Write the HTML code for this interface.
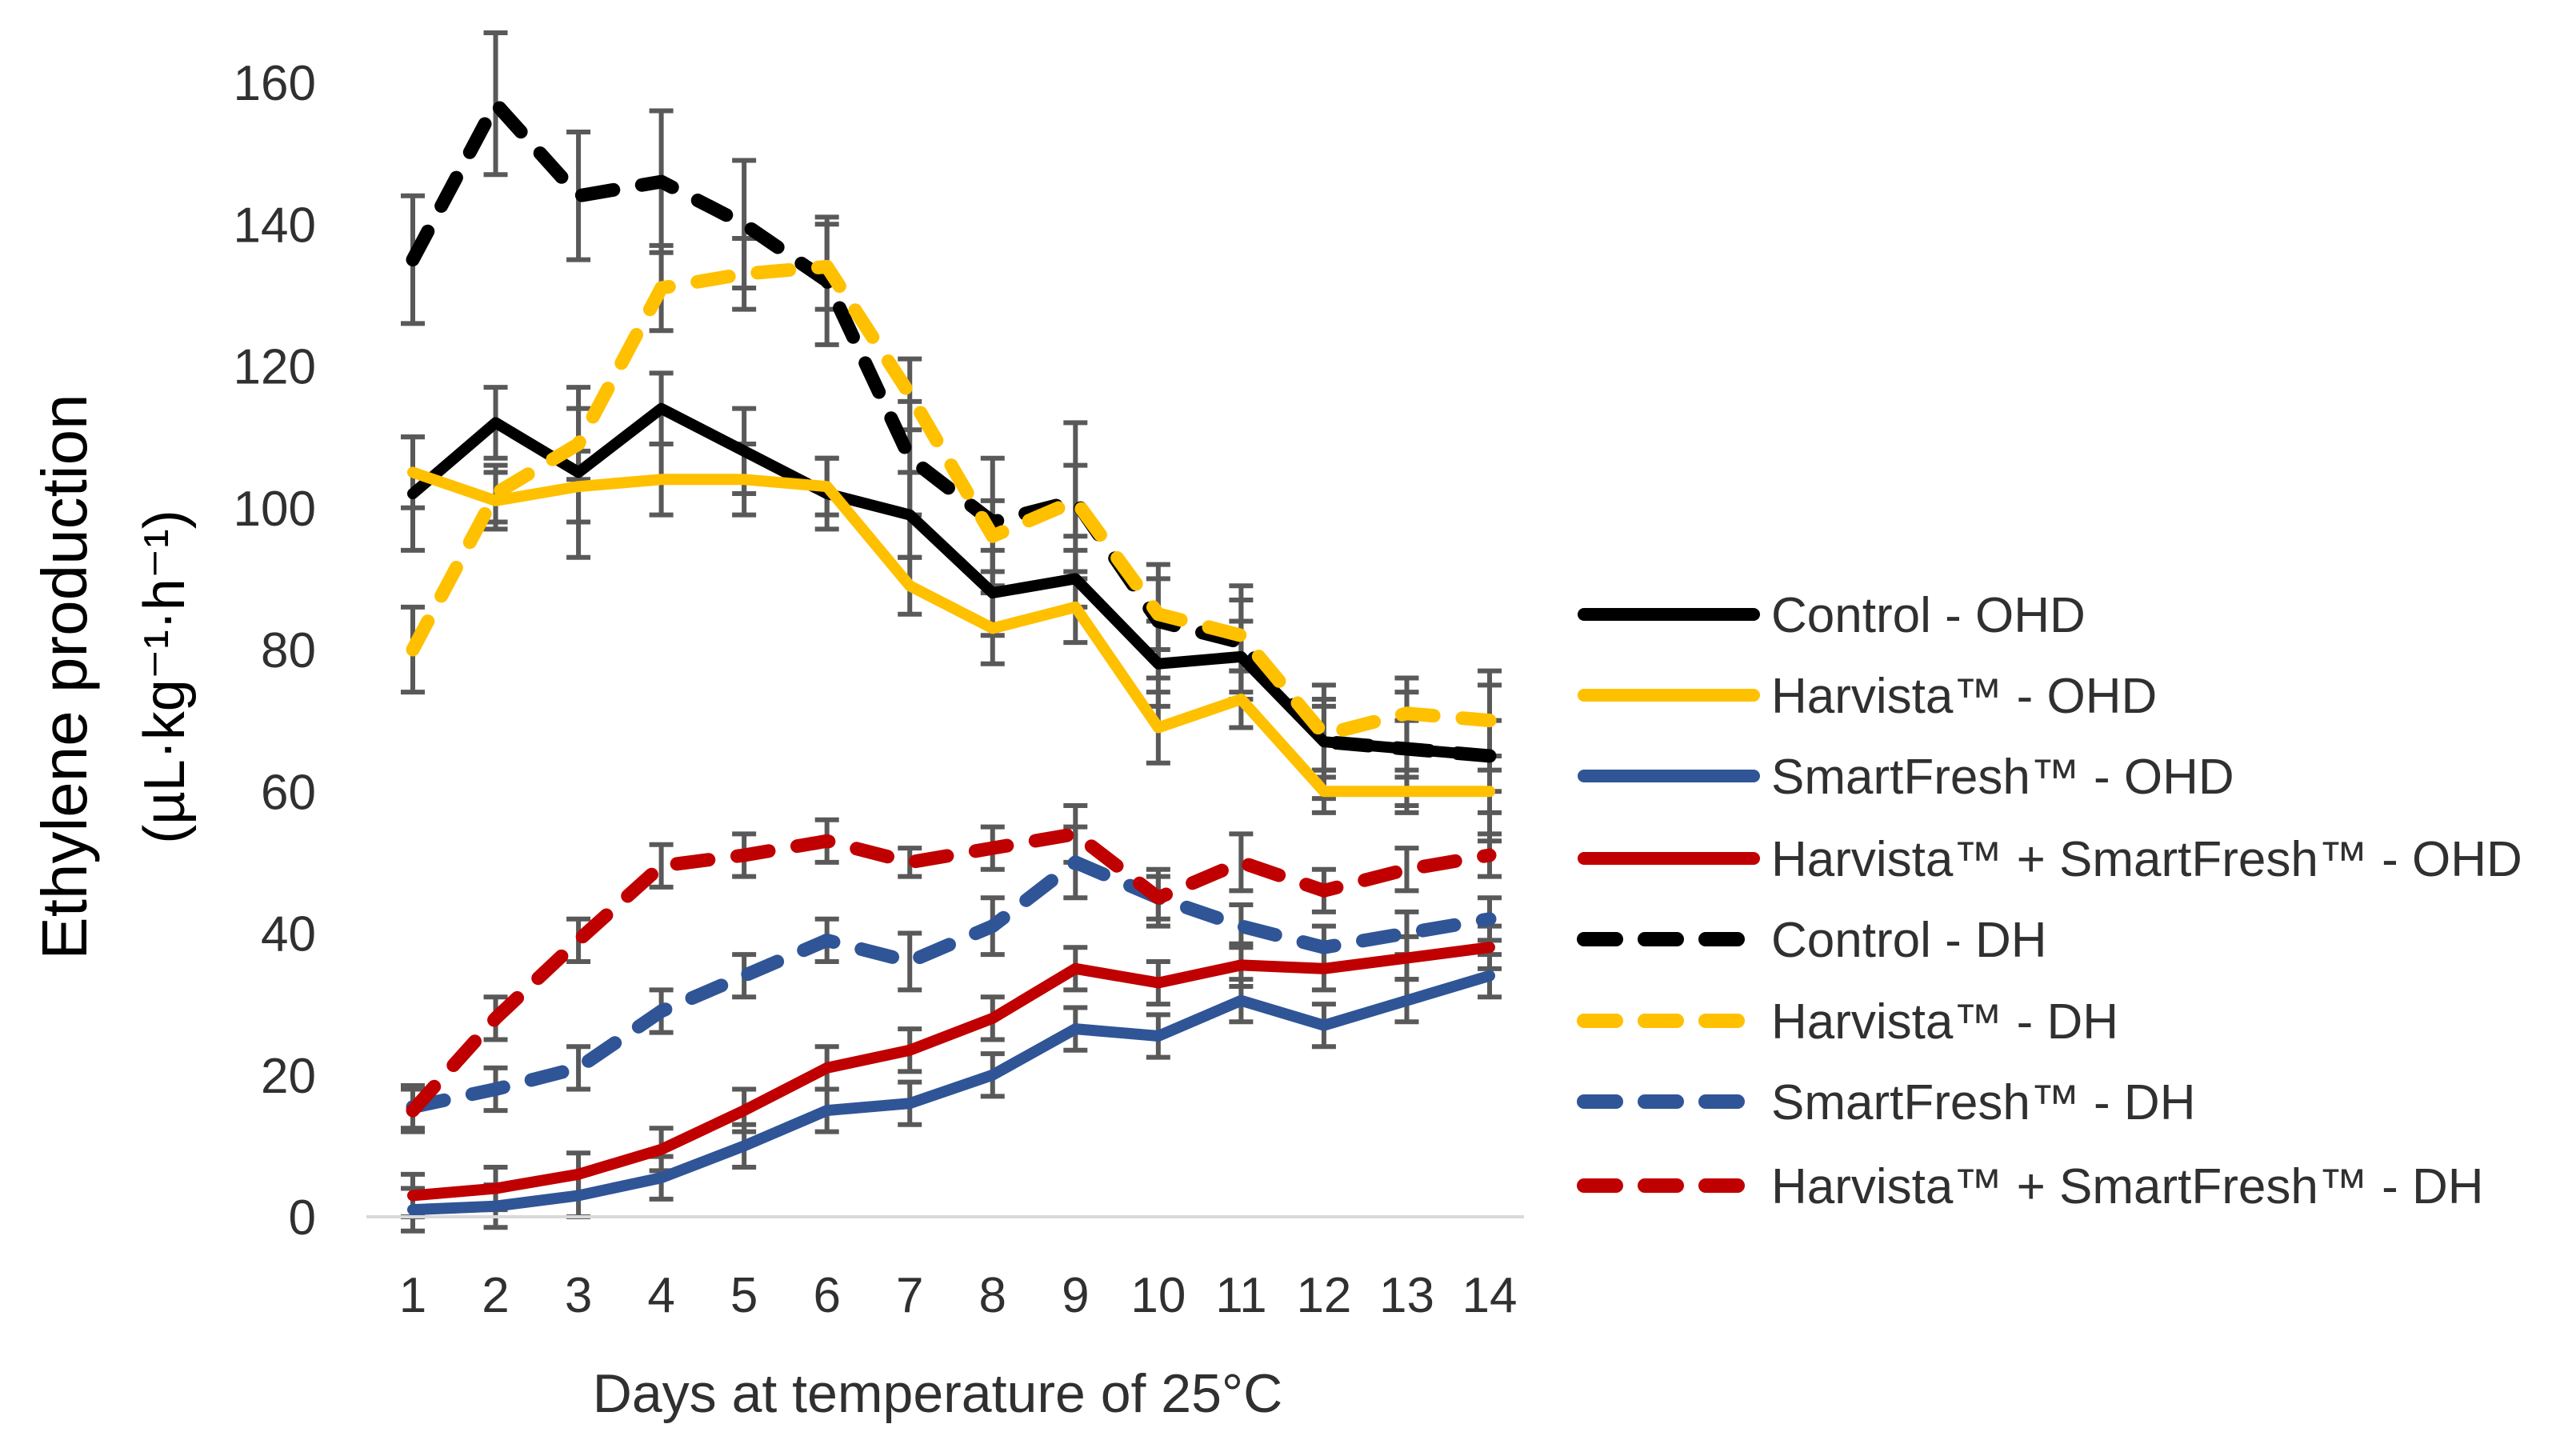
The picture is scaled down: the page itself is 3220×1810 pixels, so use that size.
<!DOCTYPE html>
<html><head><meta charset="utf-8"><style>
html,body{margin:0;padding:0;background:#fff;}
svg{display:block;font-family:"Liberation Sans",sans-serif;}
</style></head><body>
<svg id="chart" width="3220" height="1810" viewBox="0 0 3220 1810" xmlns="http://www.w3.org/2000/svg">
<g id="grid"></g><g id="errs"></g><g id="lines"></g><g id="axes"></g><g id="legend"></g>
</svg>
<script>
const days = [1,2,3,4,5,6,7,8,9,10,11,12,13,14];
const yTicks = [0,20,40,60,80,100,120,140,160];
const seriesNames = ["Control - OHD","Harvista™ - OHD","SmartFresh™ - OHD","Harvista™ + SmartFresh™ - OHD","Control - DH","Harvista™ - DH","SmartFresh™ - DH","Harvista™ + SmartFresh™ - DH"];
const controlOHD = [102,112,105,114,108,102,99,88,90,78,79,67,66,65];
const harvistaOHD = [105,101,103,104,104,103,89,83,86,69,73,60,60,60];
const smartOHD = [1,1.5,3,5.5,10,15,16,20,26.5,25.5,30.5,27,30.5,34];
const bothOHD = [3,4,6,9.5,15,21,23.5,28,35,33,35.5,35,36.5,38];
const controlDH = [135,157,144,146,140,132,107,98,101,84,81,67,66,65];
const harvistaDH = [80,102,109,131,133,134,116,96,101,85,82,68,71,70];
const smartDH = [15.5,18,21,29,34,39,36,41,50,45,41,38,40,42];
const bothDH = [15,28,39,49.5,51,53,50,52,54,45,50,46,49,51];
const errControlOHD = [8,5,12,5,6,5,6,6,4,6,5,5,4,5];
const errHarvistaOHD = [5,4,5,5,5,4,4,5,5,5,4,3,3,3];
const errSmartOHD = [3,3,3,3,3,3,3,3,3,3,3,3,3,3];
const errBothOHD = [3,3,3,3,3,3,3,3,3,3,3,3,3,3];
const errControlDH = [9,10,9,10,9,9,8,9,11,8,8,8,8,12];
const errHarvistaDH = [6,4,5,6,5,6,5,5,5,5,5,5,5,5];
const errSmartDH = [3,3,3,3,3,3,4,4,5,3,3,3,3,3];
const errBothDH = [3,3,3,3,3,3,2,3,4,4,4,3,3,3];
const values = [controlOHD,harvistaOHD,smartOHD,bothOHD,controlDH,harvistaDH,smartDH,bothDH];
const errs = [errControlOHD,errHarvistaOHD,errSmartOHD,errBothOHD,errControlDH,errHarvistaDH,errSmartDH,errBothDH];
const colors = ["#000000","#FFC000","#2F5597","#C00000","#000000","#FFC000","#2F5597","#C00000"];
const dashed = [false,false,false,false,true,true,true,true];

const NS="http://www.w3.org/2000/svg";
const x0=516,x1=1862,yb=1521,yt=103;
const X=d=>x0+(d-1)*(x1-x0)/13;
const Y=v=>yb-(v-0)*(yb-yt)/160;
function mk(tag,attrs,parent){const e=document.createElementNS(NS,tag);for(const k in attrs)e.setAttribute(k,attrs[k]);parent.appendChild(e);return e;}
const axes=document.getElementById('axes'),errG=document.getElementById('errs'),linesG=document.getElementById('lines'),leg=document.getElementById('legend');

const ax=mk('line',{x1:458,x2:1905,y1:Y(0),y2:Y(0),stroke:'#d9d9d9','stroke-width':4},axes);


yTicks.forEach(t=>{
  const e=mk('text',{x:395,y:Y(t)+22,'text-anchor':'end','font-size':62,fill:'#303030'},axes);
  e.textContent=t;
  
  
});
days.forEach(d=>{
  const e=mk('text',{x:X(d),y:1640,'text-anchor':'middle','font-size':62,fill:'#303030'},axes);
  e.textContent=d;
  
  
});
let t=mk('text',{x:1172,y:1765,'text-anchor':'middle','font-size':68,fill:'#303030'},axes);
t.textContent='Days at temperature of 25°C';


t=mk('text',{x:0,y:0,'text-anchor':'middle','font-size':80,fill:'#000',transform:'translate(108,846) rotate(-90)'},axes);
t.textContent='Ethylene production';


t=mk('text',{x:0,y:0,'text-anchor':'middle','font-size':72,fill:'#000',transform:'translate(230,846) rotate(-90)'},axes);
t.textContent='(µL·kg⁻¹·h⁻¹)';



values.forEach((s,i)=>{
  s.forEach((v,j)=>{
    const e=errs[i][j],cx=X(days[j]);
    const p=mk('path',{d:`M${cx},${Y(v-e)}V${Y(v+e)}M${cx-15},${Y(v-e)}H${cx+15}M${cx-15},${Y(v+e)}H${cx+15}`,stroke:'#595959','stroke-width':6,fill:'none'},errG);
    
    
  });
  const pts=s.map((v,j)=>X(days[j])+','+Y(v)).join(' ');
  const attrs={points:pts,fill:'none',stroke:colors[i],'stroke-width':dashed[i]?17:14,'stroke-linejoin':'round','stroke-linecap':'round'};
  if(dashed[i])attrs['stroke-dasharray']='40 36';
  const pl=mk('polyline',attrs,linesG);
  
  
});

const legY=[768,869,970,1073,1174,1276,1377,1482];
seriesNames.forEach((n,i)=>{
  const g=mk('g',{},leg);
  
  
  const a={x1:1980,x2:2192,y1:legY[i],y2:legY[i],stroke:colors[i],'stroke-width':dashed[i]?18:16,'stroke-linecap':'round'};
  if(dashed[i])a['stroke-dasharray']='40 36';
  mk('line',a,g);
  const tx=mk('text',{x:2214,y:legY[i]+22,'font-size':62,fill:'#303030'},g);
  tx.textContent=n;
});
</script>
</body></html>
